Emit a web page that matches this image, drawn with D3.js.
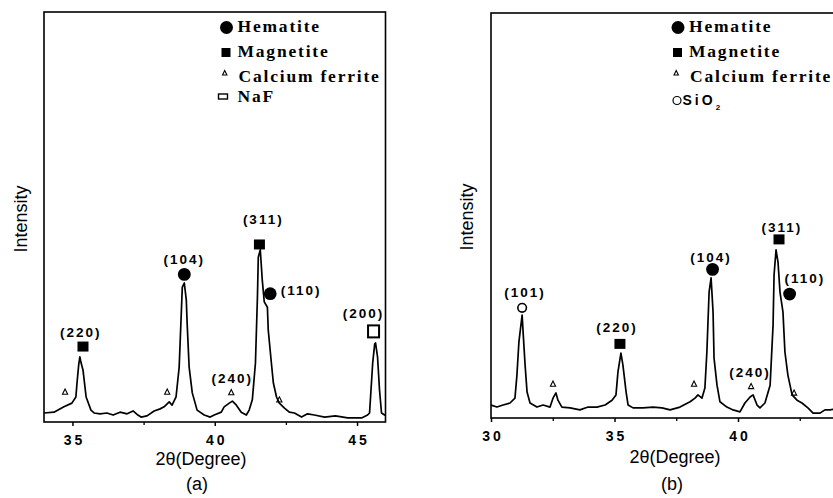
<!DOCTYPE html>
<html>
<head>
<meta charset="utf-8">
<script src="https://cdn.jsdelivr.net/npm/d3@7"></script>
<style>
  body { margin: 0; background: #fff; }
  svg { display: block; }
</style>
</head>
<body>
<svg id="chart"></svg>
<script>
// pattern (a): 2theta and intensity (arbitrary units, 0-100 over the frame)
let angleA = [34.0, 34.35, 34.7, 34.98, 35.12, 35.16, 35.22, 35.26, 35.3, 35.37, 35.48, 35.65, 35.76,
  35.97, 36.21, 36.43, 36.67, 36.92, 37.13, 37.3, 37.41, 37.62, 37.87, 38.08, 38.22, 38.4, 38.5, 38.64,
  38.75, 38.86, 38.93, 39.0, 39.03, 39.1, 39.21, 39.38, 39.63, 39.84, 39.98, 40.23, 40.33, 40.51, 40.62,
  40.76, 40.93, 41.11, 41.21, 41.32, 41.43, 41.5, 41.53, 41.6, 41.67, 41.74, 41.85, 41.88, 41.99, 42.06,
  42.17, 42.27, 42.45, 42.62, 42.8, 43.05, 43.26, 43.5, 43.86, 44.24, 44.67, 45.16, 45.37, 45.44, 45.55,
  45.62, 45.65, 45.72, 45.79, 45.86, 45.97, 46.04]
let countsA = [2.2, 2.4, 3.7, 4.6, 6.1, 9.5, 14.0, 15.9, 14.5, 12.7, 6.1, 2.9, 2.2,
  2.0, 2.2, 1.7, 2.4, 2.0, 2.7, 1.7, 1.2, 1.5, 2.7, 3.2, 3.7, 4.9, 4.1, 6.1,
  13.4, 32.9, 33.9, 29.8, 24.1, 13.4, 7.1, 2.9, 1.7, 1.2, 1.7, 2.4, 3.7, 4.6, 5.1,
  4.1, 2.4, 1.7, 2.9, 5.4, 14.4, 30.5, 40.2, 42.0, 34.6, 29.3, 28.0, 22.4, 14.4, 9.5,
  6.1, 4.6, 3.4, 2.4, 2.2, 1.2, 2.0, 1.7, 1.2, 1.5, 1.0, 1.0, 1.7, 2.2, 14.4,
  19.0, 19.3, 15.9, 7.8, 2.2, 1.7, 1.7]

// pattern (b)
let angleB = [30.0, 30.24, 30.49, 30.77, 30.97, 31.05, 31.13, 31.26, 31.3, 31.38, 31.46, 31.58, 31.86,
  32.11, 32.39, 32.51, 32.63, 32.71, 32.87, 33.2, 33.6, 33.93, 34.29, 34.62, 34.9, 35.06, 35.14, 35.26,
  35.34, 35.47, 35.55, 35.75, 36.15, 36.56, 36.92, 37.25, 37.65, 38.06, 38.26, 38.38, 38.54, 38.66, 38.74,
  38.83, 38.91, 38.99, 39.03, 39.15, 39.27, 39.55, 39.8, 40.08, 40.28, 40.49, 40.61, 40.77, 40.89, 41.09,
  41.3, 41.42, 41.46, 41.54, 41.62, 41.7, 41.82, 41.9, 42.02, 42.19, 42.39, 42.59, 42.83, 43.04, 43.32,
  43.52, 43.72, 43.93]
let countsB = [3.2, 2.7, 3.2, 3.7, 4.9, 10.6, 18.8, 25.4, 21.2, 13.1, 6.4, 3.7, 2.7,
  3.2, 2.7, 4.9, 6.2, 4.4, 2.7, 2.5, 2.0, 2.7, 2.7, 3.2, 4.4, 5.7, 11.4, 16.0,
  13.1, 6.4, 3.2, 2.5, 2.5, 2.7, 2.5, 2.0, 2.7, 4.0, 4.9, 5.7, 4.9, 7.4, 16.3,
  31.1, 34.6, 26.2, 14.8, 8.1, 4.0, 2.7, 2.0, 1.5, 3.7, 5.2, 5.7, 3.2, 2.5, 3.7,
  8.1, 23.0, 35.3, 41.5, 38.5, 31.1, 26.2, 16.3, 10.6, 5.7, 4.4, 3.7, 2.5, 1.2, 1.2,
  2.0, 2.0, 2.2]

let ticksA = [35, 40, 45]
let minorA = [37.5, 42.5]
let ticksB = [30, 35, 40]
let minorB = [32.5, 37.5, 42.5]

let legendA = ["Hematite", "Magnetite", "Calcium ferrite", "NaF"]
let legendB = ["Hematite", "Magnetite", "Calcium ferrite", "SiO2"]

// peak marks: marker at (x, y), hkl label at (lx, ly), in data units
let peaksA = [
  {phase: "Magnetite", hkl: "(220)", x: 35.37, y: 18.4, lx: 35.26, ly: 20.7},
  {phase: "Hematite", hkl: "(104)", x: 38.93, y: 36.0, lx: 38.89, ly: 38.5},
  {phase: "Magnetite", hkl: "(311)", x: 41.57, y: 43.3, lx: 41.67, ly: 48.3},
  {phase: "Hematite", hkl: "(110)", x: 41.95, y: 31.3, lx: 43.0, ly: 31.0},
  {phase: "Calcium ferrite", hkl: "(240)", x: 40.58, y: 7.2, lx: 40.58, ly: 9.5},
  {phase: "NaF", hkl: "(200)", x: 45.58, y: 22.1, lx: 45.19, ly: 25.4},
  {phase: "Calcium ferrite", hkl: "", x: 34.74, y: 7.3},
  {phase: "Calcium ferrite", hkl: "", x: 38.33, y: 7.3},
  {phase: "Calcium ferrite", hkl: "", x: 42.27, y: 5.4}
]
let peaksB = [
  {phase: "SiO2", hkl: "(101)", x: 31.26, y: 27.2, lx: 31.34, ly: 29.9},
  {phase: "Magnetite", hkl: "(220)", x: 35.22, y: 18.3, lx: 35.06, ly: 21.2},
  {phase: "Hematite", hkl: "(104)", x: 38.97, y: 36.7, lx: 38.87, ly: 38.5},
  {phase: "Magnetite", hkl: "(311)", x: 41.66, y: 44.1, lx: 41.74, ly: 45.9},
  {phase: "Hematite", hkl: "(110)", x: 42.09, y: 30.6, lx: 42.67, ly: 33.3},
  {phase: "Calcium ferrite", hkl: "(240)", x: 40.53, y: 7.8, lx: 40.45, ly: 10.1},
  {phase: "Calcium ferrite", hkl: "", x: 32.51, y: 8.4},
  {phase: "Calcium ferrite", hkl: "", x: 38.22, y: 8.4},
  {phase: "Calcium ferrite", hkl: "", x: 42.27, y: 6.2}
]

let width = 833
let height = 498

let svg = d3.select("#chart")
svg.attr("width", width)
svg.attr("height", height)

let sans = "'Liberation Sans', Arial, sans-serif"
let serif = "'Liberation Serif', 'Times New Roman', serif"

let drawMarker = (g, phase, cx, cy) => {
  if (phase == "Hematite") {
    g.append("circle").attr("cx", cx).attr("cy", cy).attr("r", 6.4).attr("fill", "#000")
  } else if (phase == "Magnetite") {
    g.append("rect").attr("x", cx - 5.5).attr("y", cy - 5).attr("width", 11).attr("height", 10).attr("fill", "#000")
  } else if (phase == "Calcium ferrite") {
    g.append("path")
      .attr("d", `M${cx},${cy - 3} L${cx + 2.6},${cy + 2.2} L${cx - 2.6},${cy + 2.2} Z`)
      .attr("fill", "none").attr("stroke", "#000").attr("stroke-width", 1.1)
  } else if (phase == "NaF") {
    g.append("rect").attr("x", cx - 5.5).attr("y", cy - 6).attr("width", 11).attr("height", 12)
      .attr("fill", "none").attr("stroke", "#000").attr("stroke-width", 2)
  } else if (phase == "SiO2") {
    g.append("circle").attr("cx", cx).attr("cy", cy).attr("r", 4.3)
      .attr("fill", "none").attr("stroke", "#000").attr("stroke-width", 1.6)
  }
}

let drawPanel = (p) => {
  let xScale = d3.scaleLinear().domain(p.domain).range([p.left, p.right])
  let yScale = d3.scaleLinear().domain([0, 100]).range([p.bottom, p.top])

  let g = svg.append("g")

  let clipId = "clip-" + p.name
  svg.append("clipPath").attr("id", clipId)
    .append("rect").attr("x", p.left).attr("y", p.top)
    .attr("width", p.right - p.left).attr("height", p.bottom - p.top)

  // frame
  g.append("rect")
    .attr("x", p.left).attr("y", p.top)
    .attr("width", p.right - p.left).attr("height", p.bottom - p.top)
    .attr("fill", "none").attr("stroke", "#000").attr("stroke-width", 1.6)

  // x axis, major ticks with bold spaced labels
  let xAxis = d3.axisBottom(xScale).tickValues(p.ticks).tickSize(4).tickPadding(9).tickFormat(d3.format("d"))
  let ax = g.append("g").attr("transform", "translate(0," + p.bottom + ")").call(xAxis)
  ax.select(".domain").remove()
  ax.selectAll("line").attr("stroke", "#000").attr("stroke-width", 1.5)
  ax.selectAll("text")
    .attr("fill", "#000")
    .style("font-family", sans).style("font-weight", "bold").style("font-size", "14px")
    .style("letter-spacing", "3px").attr("dx", "1.5")

  let minorAxis = d3.axisBottom(xScale).tickValues(p.minor).tickSize(3).tickFormat("")
  let mx = g.append("g").attr("transform", "translate(0," + p.bottom + ")").call(minorAxis)
  mx.select(".domain").remove()
  mx.selectAll("line").attr("stroke", "#000").attr("stroke-width", 1.3)

  // pattern line
  let line = d3.line().x((d, i) => xScale(p.angle[i])).y(d => yScale(d))
  g.append("path")
    .datum(p.counts)
    .attr("clip-path", "url(#" + clipId + ")")
    .attr("d", line)
    .attr("fill", "none")
    .attr("stroke", "#000")
    .attr("stroke-width", 1.7)
    .attr("stroke-linejoin", "round")

  // peak markers and labels
  p.peaks.forEach(d => {
    drawMarker(g, d.phase, xScale(d.x), yScale(d.y))
    if (d.hkl) {
      g.append("text")
        .attr("x", xScale(d.lx)).attr("y", yScale(d.ly))
        .attr("text-anchor", "middle").attr("dx", 1)
        .style("font-family", sans).style("font-weight", "bold").style("font-size", "13.5px")
        .style("letter-spacing", "2px")
        .text(d.hkl)
    }
  })

  // axis titles
  g.append("text")
    .attr("transform", "translate(" + p.yTitleX + "," + p.yTitleY + ") rotate(-90)")
    .attr("text-anchor", "middle")
    .style("font-family", sans).style("font-size", "18px")
    .text("Intensity")

  g.append("text")
    .attr("x", p.xTitleX).attr("y", p.xTitleY)
    .attr("text-anchor", "middle")
    .style("font-family", sans).style("font-size", "18px")
    .text("2θ(Degree)")

  g.append("text")
    .attr("x", p.capX).attr("y", 490)
    .attr("text-anchor", "middle")
    .style("font-family", sans).style("font-size", "18px")
    .text(p.caption)

  // legend
  let rows = [32, 57, 82, p.lastRow]
  p.legend.forEach((name, i) => {
    let sy = rows[i]
    if (name == "Hematite") {
      g.append("circle").attr("cx", p.legX).attr("cy", sy - 4.5).attr("r", 6.5).attr("fill", "#000")
    } else if (name == "Magnetite") {
      g.append("rect").attr("x", p.legX - 5).attr("y", sy - 9).attr("width", 9).attr("height", 9).attr("fill", "#000")
    } else if (name == "Calcium ferrite") {
      g.append("path")
        .attr("d", `M${p.legX - 4},${sy - 7} l2.2,-4.5 l2.2,4.5 Z`)
        .attr("fill", "none").attr("stroke", "#000").attr("stroke-width", 1.1)
    } else if (name == "NaF") {
      g.append("rect").attr("x", p.legX - 8).attr("y", sy - 8).attr("width", 9).attr("height", 5)
        .attr("fill", "none").attr("stroke", "#000").attr("stroke-width", 1.4)
    } else if (name == "SiO2") {
      g.append("circle").attr("cx", p.legX - 1).attr("cy", sy - 4.5).attr("r", 4)
        .attr("fill", "none").attr("stroke", "#000").attr("stroke-width", 1.2)
    }
    if (name == "SiO2") {
      let t = g.append("text").attr("x", p.legX + 4.5).attr("y", sy)
        .style("font-family", sans).style("font-weight", "bold").style("font-size", "14px")
        .style("letter-spacing", "3px")
      t.append("tspan").text("SiO")
      t.append("tspan").attr("dy", 5).style("font-size", "8px").text("2")
    } else {
      g.append("text")
        .attr("x", p.legX + 11 + (name == "Calcium ferrite" ? 1 : 0)).attr("y", sy)
        .style("font-family", serif).style("font-weight", "bold").style("font-size", "17.5px")
        .style("letter-spacing", "1.8px")
        .text(name)
    }
  })
}

drawPanel({
  name: "a", left: 44, right: 385.5, top: 12, bottom: 422, domain: [34, 46],
  ticks: ticksA, minor: minorA, angle: angleA, counts: countsA, peaks: peaksA,
  legend: legendA, legX: 226.5, lastRow: 102,
  yTitleX: 27, yTitleY: 219, xTitleX: 201, xTitleY: 465, capX: 197, caption: "(a)"
})

drawPanel({
  name: "b", left: 491, right: 836.8, top: 13, bottom: 418, domain: [30, 44],
  ticks: ticksB, minor: minorB, angle: angleB, counts: countsB, peaks: peaksB,
  legend: legendB, legX: 678, lastRow: 105,
  yTitleX: 473, yTitleY: 217, xTitleX: 675, xTitleY: 463, capX: 672, caption: "(b)"
})
</script>
</body>
</html>
